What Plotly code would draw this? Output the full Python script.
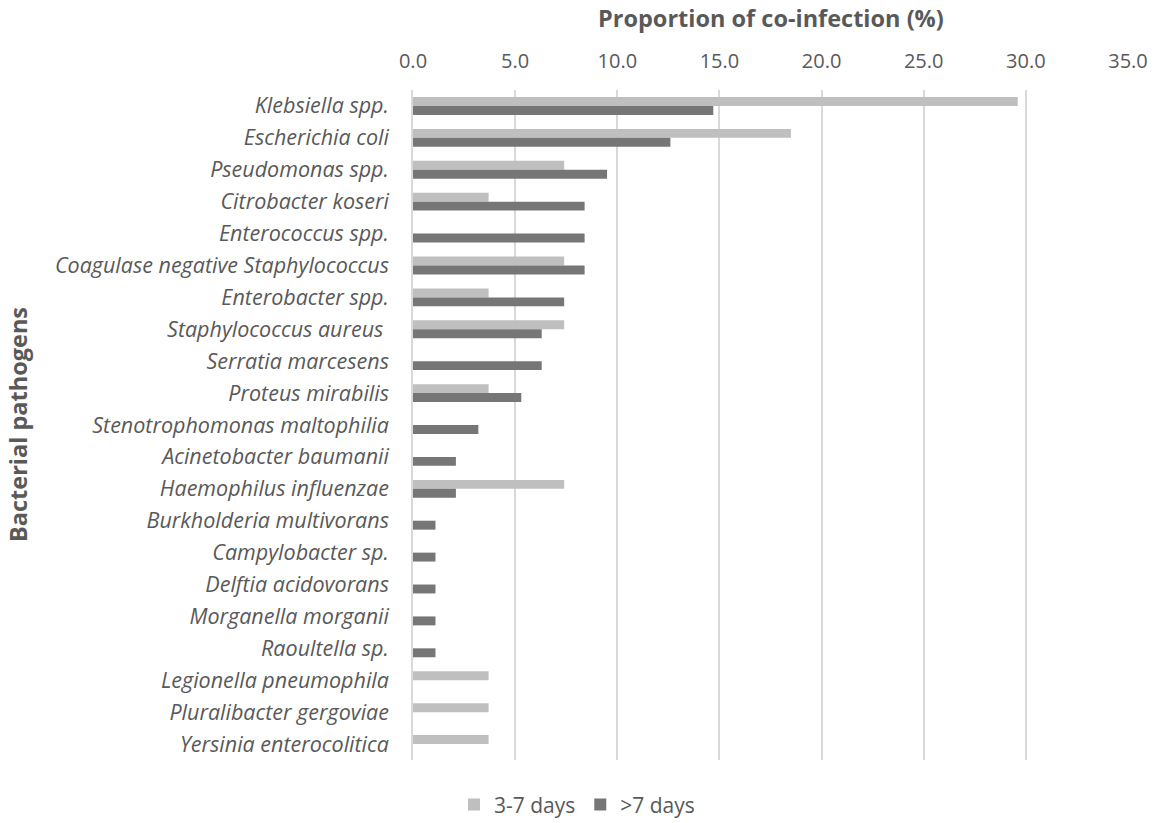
import plotly.graph_objects as go

categories = [
    "Klebsiella spp.", "Escherichia coli", "Pseudomonas spp.", "Citrobacter koseri",
    "Enterococcus spp.", "Coagulase negative Staphylococcus", "Enterobacter spp.",
    "Staphylococcus aureus ", "Serratia marcesens", "Proteus mirabilis",
    "Stenotrophomonas maltophilia", "Acinetobacter baumanii", "Haemophilus influenzae",
    "Burkholderia multivorans", "Campylobacter sp.", "Delftia acidovorans",
    "Morganella morganii", "Raoultella sp.", "Legionella pneumophila",
    "Pluralibacter gergoviae", "Yersinia enterocolitica",
]
days_3_7 = [29.6, 18.5, 7.4, 3.7, 0, 7.4, 3.7, 7.4, 0, 3.7, 0, 0, 7.4, 0, 0, 0, 0, 0, 3.7, 3.7, 3.7]
days_gt7 = [14.7, 12.6, 9.5, 8.4, 8.4, 8.4, 7.4, 6.3, 6.3, 5.3, 3.2, 2.1, 2.1, 1.1, 1.1, 1.1, 1.1, 1.1, 0, 0, 0]
tick_vals = [0, 5, 10, 15, 20, 25, 30, 35]
tick_text = ["0.0", "5.0", "10.0", "15.0", "20.0", "25.0", "30.0", "35.0"]

FONT = "'Open Sans', Lato, sans-serif"
GREY = "#595959"

fig = go.Figure()
fig.add_trace(go.Bar(y=categories, x=days_3_7, orientation="h", name="3-7 days",
                     marker=dict(color="#BFBFBF", line=dict(width=0))))
fig.add_trace(go.Bar(y=categories, x=days_gt7, orientation="h", name=">7 days",
                     marker=dict(color="#767676", line=dict(width=0))))

fig.update_layout(
    width=1154, height=823,
    barmode="group", bargap=0.44, bargroupgap=0,
    plot_bgcolor="white", paper_bgcolor="white",
    margin=dict(l=413, r=26, t=90, b=63),
    font=dict(family=FONT, color=GREY, size=18),
    xaxis=dict(
        side="top", range=[0, 35], tickvals=tick_vals, ticktext=tick_text,
        showgrid=True, gridcolor="#D9D9D9", gridwidth=1.5, zeroline=False,
        showline=False, ticks="", tickfont=dict(size=20, color=GREY),
        ticklabelstandoff=17, automargin=False,
    ),
    yaxis=dict(
        autorange="reversed", showgrid=False, zeroline=False,
        showline=True, linecolor="#D9D9D9", linewidth=1.5,
        ticks="", ticklabelstandoff=18, automargin=False,
        tickfont=dict(size=21.5, color=GREY, style="italic"),
    ),
    legend=dict(orientation="h", xref="container", yref="container", x=0.5, xanchor="center",
                y=0.022, yanchor="middle", font=dict(size=21, color=GREY),
                itemwidth=30, traceorder="normal"),
    annotations=[
        dict(text="<b>Proportion of co-infection (%)</b>", xref="paper", yref="paper",
             x=0.5, y=1, yshift=72, xanchor="center", yanchor="middle", showarrow=False,
             font=dict(size=23.5, color=GREY)),
        dict(text="<b>Bacterial pathogens</b>", xref="paper", yref="paper",
             x=0, xshift=-395, y=0.5, xanchor="center", yanchor="middle", textangle=-90,
             showarrow=False, font=dict(size=23.5, color=GREY)),
    ],
)

fig.write_html("out.html", config={"displayModeBar": False},
               post_script="document.body.style.margin='0';")
